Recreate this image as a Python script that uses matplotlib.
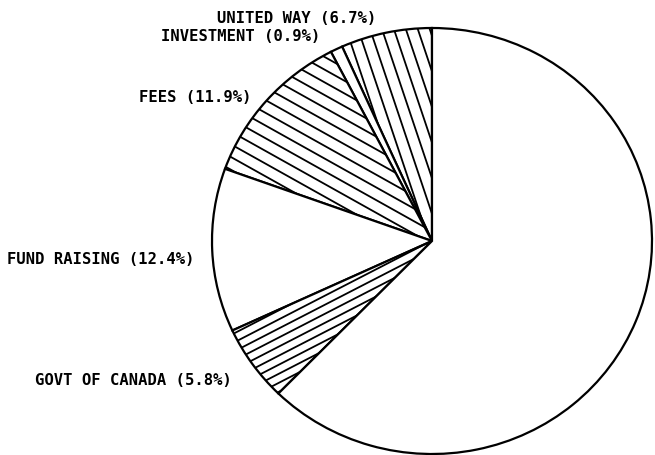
import numpy as np
import matplotlib
matplotlib.use("Agg")
import matplotlib.pyplot as plt
from matplotlib.collections import LineCollection

# ---- data ----
categories = ["UNITED WAY", "INVESTMENT", "FEES", "FUND RAISING", "GOVT OF CANADA", "OTHER"]
shares = [6.7, 0.9, 11.9, 12.4, 5.8, 62.3]
labels = ["UNITED WAY (6.7%)", "INVESTMENT (0.9%)", "FEES (11.9%)",
          "FUND RAISING (12.4%)", "GOVT OF CANADA (5.8%)", None]

# ---- style ----
W, H = 655, 456
cx_px, cy_px = 432, 242       # pie centre in pixels (from top-left)
rx_px, ry_px = 220, 213       # horizontal / vertical radius in pixels
k = rx_px / ry_px

fig = plt.figure(figsize=(W / 100, H / 100), dpi=100)
ax = fig.add_axes([0, 0, 1, 1])
ax.set_xlim(0, W / k)
ax.set_ylim(0, H)
ax.axis("off")

center = (cx_px / k, H - cy_px)
wedges, _ = ax.pie(shares, startangle=90, counterclock=True, center=center,
                   radius=ry_px, colors=["white"] * len(shares),
                   wedgeprops=dict(edgecolor="black", linewidth=1.6))
ax.set_xlim(0, W / k)
ax.set_ylim(0, H)
ax.set_aspect("auto")

# hatch settings: (angle in degrees, perpendicular spacing in px) per slice
hatch = {0: (-72, 11), 2: (-30, 11), 4: (28, 8)}
for i, (ang, sp) in hatch.items():
    th = np.deg2rad(ang)
    d = np.array([np.cos(th), np.sin(th)])
    n = np.array([-np.sin(th), np.cos(th)])
    r = ry_px * 1.2
    segs = []
    for o in np.arange(-r, r, sp):
        p = np.array(center) + o * n
        segs.append([p - r * d, p + r * d])
    lc = LineCollection(segs, colors="black", linewidths=1.3)
    ax.add_collection(lc)
    lc.set_clip_path(wedges[i])

font = dict(family="DejaVu Sans Mono", weight="bold", fontsize=11.2, color="black")
label_pos = [(217, 18.5), (161, 36.5), (139, 97.5), (7, 259), (35, 381)]
for lab, (x, y) in zip(labels, label_pos):
    if lab:
        fig.text(x / W, 1 - y / H, lab, ha="left", va="center", **font)

fig.savefig("out.png", dpi=100, facecolor="white")
